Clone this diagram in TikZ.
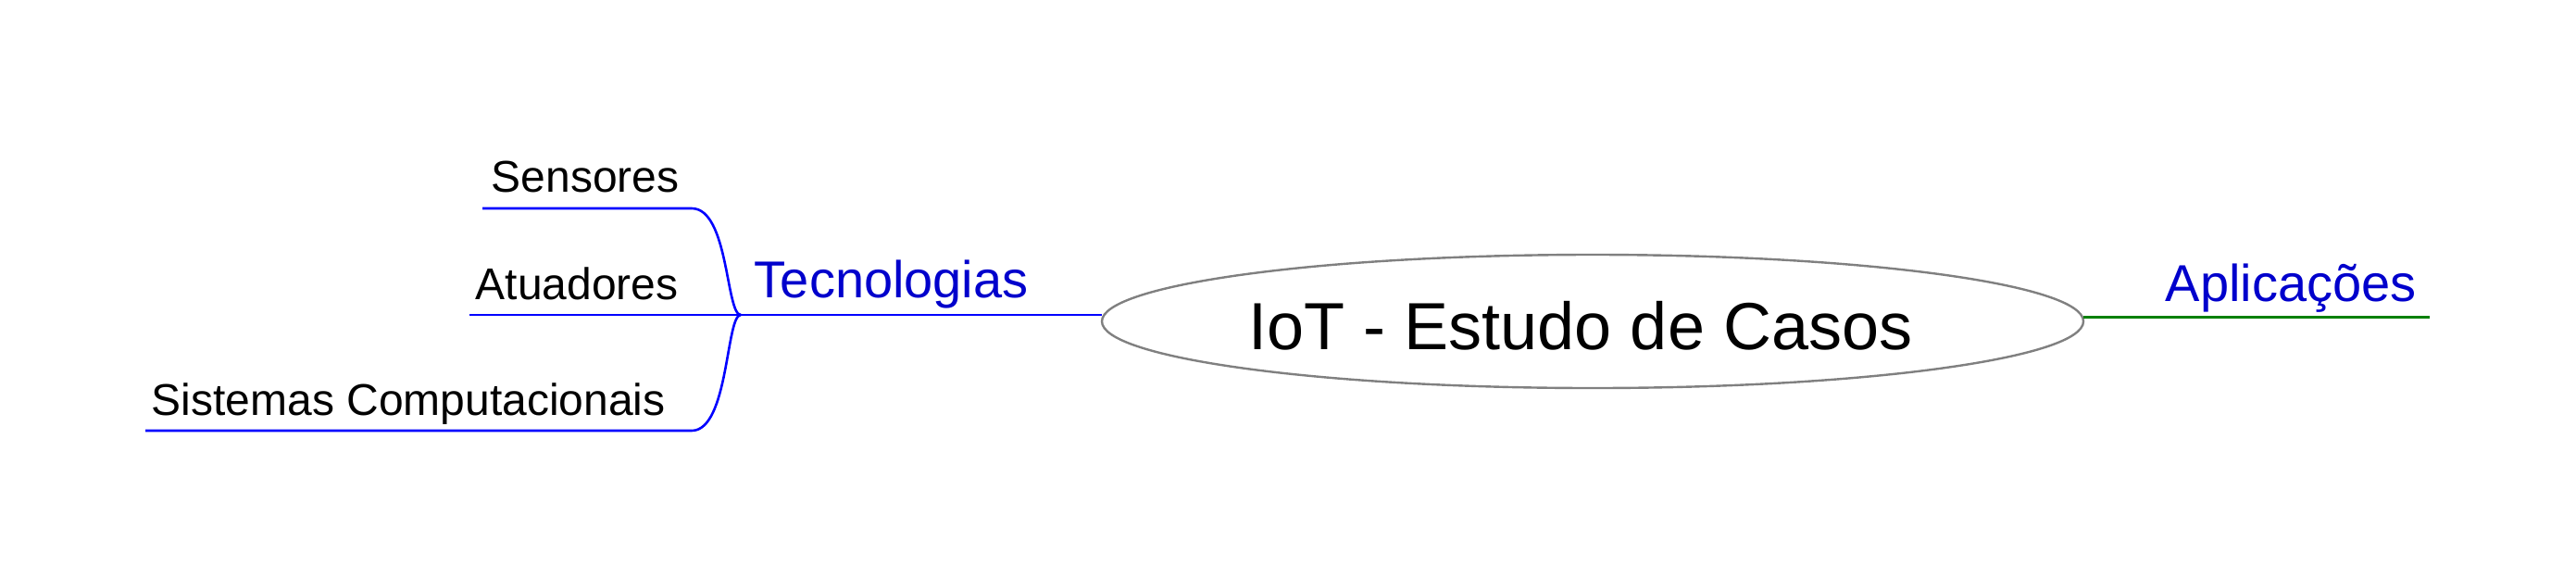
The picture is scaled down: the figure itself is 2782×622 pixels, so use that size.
\documentclass[tikz,border=0pt]{standalone}
\usepackage{fontspec}
\setmainfont{Liberation Sans}
\usetikzlibrary{shapes.geometric}
\definecolor{branchblue}{RGB}{0,0,255}
\definecolor{labelblue}{RGB}{0,0,204}
\definecolor{branchgreen}{RGB}{0,128,0}
\definecolor{rootgray}{RGB}{128,128,128}
\tikzset{
  leaf/.style={anchor=base west, inner sep=0pt, font=\fontsize{12pt}{14pt}\selectfont, text=black},
  mainlabel/.style={anchor=base west, inner sep=0pt, font=\fontsize{14pt}{17pt}\selectfont, text=labelblue},
  blueline/.style={draw=branchblue, line width=0.65pt},
  greenline/.style={draw=branchgreen, line width=0.75pt},
  rootshape/.style={ellipse, draw=rootgray, line width=0.6pt, minimum width=265pt, minimum height=36pt, inner sep=0pt}
}
\begin{document}
\begin{tikzpicture}[x=0.25pt,y=-0.25pt]
\useasboundingbox (0,0) rectangle (2782,622);
% root
\node[rootshape] (root) at (1720,347) {};
\node[anchor=base, inner sep=0pt, font=\fontsize{18pt}{22pt}\selectfont] (title) at (1707,377) {IoT - Estudo de Casos};
% coordinates for branch lines
\coordinate (hub) at (800,340);
\coordinate (tecR) at (1190,340);
\coordinate (senL) at (521,225);
\coordinate (senR) at (747,225);
\coordinate (atuL) at (507,340);
\coordinate (sisL) at (157,465);
\coordinate (sisR) at (747,465);
\coordinate (aplL) at (2250,342);
\coordinate (aplR) at (2624,342);
% labels
\node[mainlabel] (tec) at (814,321) {Tecnologias};
\node[mainlabel] (apl) at (2338,325) {Aplicações};
\node[leaf] (sen) at (530,207) {Sensores};
\node[leaf] (atu) at (513,323) {Atuadores};
\node[leaf] (sis) at (163,448) {Sistemas Computacionais};
% connectors
\draw[blueline] (hub) -- (tecR);
\draw[blueline] (senL) -- (senR) .. controls (787,225) and (784,340) .. (hub);
\draw[blueline] (atuL) -- (hub);
\draw[blueline] (sisL) -- (sisR) .. controls (787,465) and (784,340) .. (hub);
\draw[greenline] (aplL) -- (aplR);
\end{tikzpicture}
\end{document}
